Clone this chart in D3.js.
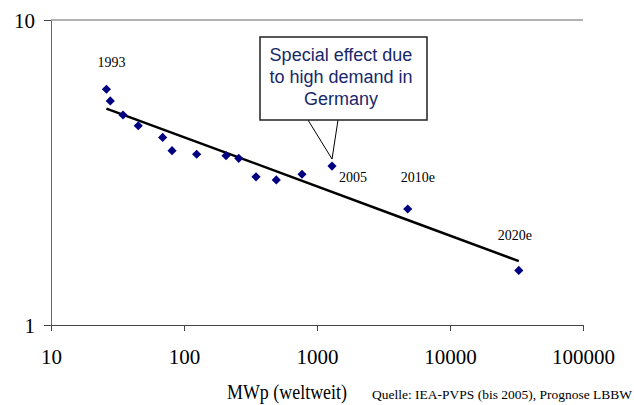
<!DOCTYPE html>
<html>
<head>
<meta charset="utf-8">
<script src="https://cdn.jsdelivr.net/npm/d3@7"></script>
<style>
  html, body { margin: 0; padding: 0; background: #fff; }
  svg { display: block; }
</style>
</head>
<body>
<svg id="chart" width="634" height="405"></svg>
<script>
// ---- Data ----
const capacityMWp = [26.1, 27.9, 34.8, 45.3, 69.1, 81.3, 124.5, 207, 258, 348, 494, 771, 1297, 4810, 32900];
const costIndex   = [5.93, 5.43, 4.88, 4.50, 4.12, 3.73, 3.63, 3.59, 3.52, 3.06, 2.99, 3.12, 3.32, 2.40, 1.51];
const trendMWp    = [26.1, 300, 4810, 32900];
const trendValue  = [5.12, 3.46, 2.21, 1.62];
const pointLabelIndex = [0, 12, 13, 14];
const pointLabelText  = ["1993", "2005", "2010e", "2020e"];
const xTicks = [10, 100, 1000, 10000, 100000];
const yTicks = [1, 10];
const calloutLines = ["Special effect due", "to high demand in", "Germany"];
const xAxisTitle = "MWp (weltweit)";
const sourceNote = "Quelle: IEA-PVPS (bis 2005), Prognose LBBW";

// ---- Layout ----
const svg = d3.select("#chart");
const pLeft = 51, pRight = 583, pTop = 20, pBottom = 325;
const serif = "'Liberation Serif', 'Times New Roman', Times, serif";
const sans = "'Liberation Sans', Arial, sans-serif";

const x = d3.scaleLog().domain([10, 100000]).range([pLeft, pRight]);
const y = d3.scaleLog().domain([1, 10]).range([pBottom, pTop]);

// top border
svg.append("line")
  .attr("x1", pLeft).attr("x2", pRight).attr("y1", pTop).attr("y2", pTop)
  .attr("stroke", "#666").attr("stroke-width", 1);

// x axis
const gx = svg.append("g").attr("transform", `translate(0,${pBottom})`)
  .call(d3.axisBottom(x).tickValues(xTicks).tickFormat(d3.format("d"))
    .tickSize(6).tickSizeOuter(0).tickPadding(18));
gx.select(".domain").attr("stroke", "#444");
gx.selectAll(".tick line").attr("stroke", "#444");
gx.selectAll(".tick text").attr("font-family", serif).attr("font-size", 21).attr("fill", "#000");

// y axis
const gy = svg.append("g").attr("transform", `translate(${pLeft},0)`)
  .call(d3.axisLeft(y).tickValues(yTicks).tickFormat(d3.format("d"))
    .tickSize(7).tickSizeOuter(0).tickPadding(9));
gy.select(".domain").attr("stroke", "#666");
gy.selectAll(".tick line").attr("stroke", "#444");
gy.selectAll(".tick text").attr("font-family", serif).attr("font-size", 21)
  .attr("fill", "#000").attr("dy", "0.38em");

// trend line
const line = d3.line().x(d => x(d[0])).y(d => y(d[1]));
svg.append("path")
  .datum(trendMWp.map((v, i) => [v, trendValue[i]]))
  .attr("d", line)
  .attr("fill", "none").attr("stroke", "#000").attr("stroke-width", 2.5);

// points (square diamonds)
const diamond = d3.symbol().type(d3.symbolSquare).size(42);
svg.append("g").selectAll("path")
  .data(capacityMWp.map((v, i) => [v, costIndex[i]]))
  .join("path")
  .attr("d", diamond)
  .attr("transform", d => `translate(${x(d[0])},${y(d[1])}) rotate(45)`)
  .attr("fill", "#000080");

// point labels
const labelOffsets = [[-9, -22], [7, 16], [-7, -27], [-21, -30]];
svg.append("g").selectAll("text")
  .data(pointLabelIndex.map((idx, i) => ({ idx, text: pointLabelText[i], off: labelOffsets[i] })))
  .join("text")
  .attr("x", d => x(capacityMWp[d.idx]) + d.off[0])
  .attr("y", d => y(costIndex[d.idx]) + d.off[1])
  .attr("font-family", serif).attr("font-size", 14).attr("fill", "#000")
  .text(d => d.text);

// callout
const tipX = x(capacityMWp[12]), tipY = y(costIndex[12]) - 7;
const box = { x0: 260, y0: 37, x1: 427, y1: 120 };
svg.append("path")
  .attr("d", `M308,${box.y1} L${tipX},${tipY} L338,${box.y1}`)
  .attr("fill", "none").attr("stroke", "#000").attr("stroke-width", 1);
svg.append("rect")
  .attr("x", box.x0).attr("y", box.y0)
  .attr("width", box.x1 - box.x0).attr("height", box.y1 - box.y0)
  .attr("fill", "#fff").attr("stroke", "#222").attr("stroke-width", 1.5);
svg.append("g").selectAll("text")
  .data(calloutLines)
  .join("text")
  .attr("x", 341).attr("y", (d, i) => 61 + i * 22)
  .attr("text-anchor", "middle")
  .attr("font-family", sans).attr("font-size", 18).attr("fill", "#17286a")
  .text(d => d);

// axis title and source
svg.append("text")
  .attr("x", 227).attr("y", 399)
  .attr("font-family", serif).attr("font-size", 21).attr("fill", "#000")
  .attr("textLength", 120).attr("lengthAdjust", "spacingAndGlyphs")
  .text(xAxisTitle);
svg.append("text")
  .attr("x", 372).attr("y", 399)
  .attr("font-family", serif).attr("font-size", 13.5).attr("fill", "#000")
  .attr("textLength", 260).attr("lengthAdjust", "spacingAndGlyphs")
  .text(sourceNote);
</script>
</body>
</html>
